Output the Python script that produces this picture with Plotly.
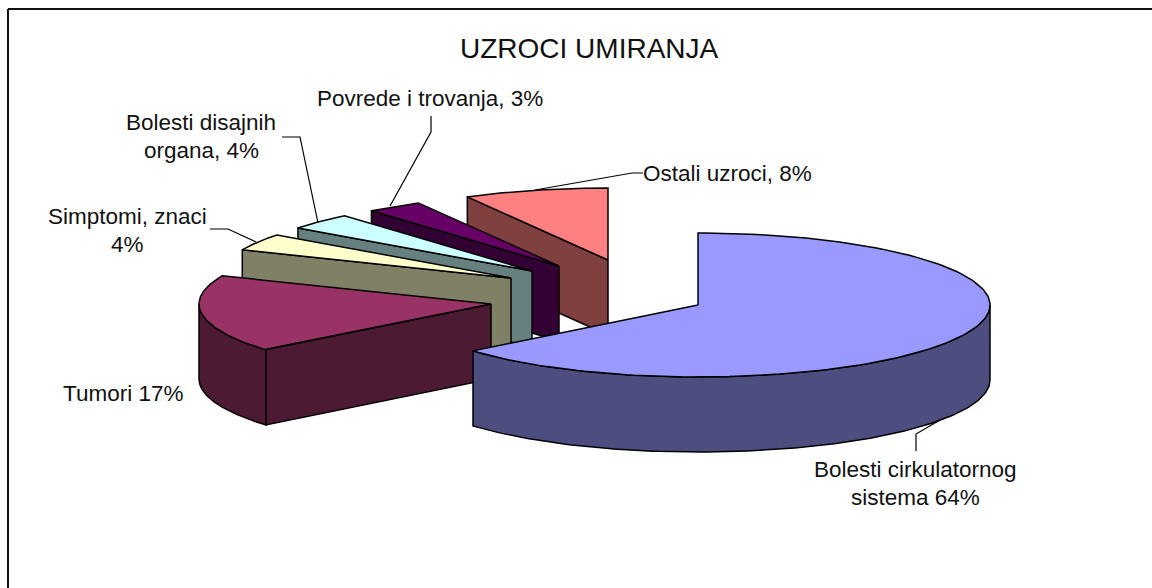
import numpy as np
import plotly.graph_objects as go

# ---- data ----
categories = ["Bolesti cirkulatornog sistema", "Tumori", "Simptomi, znaci",
              "Bolesti disajnih organa", "Povrede i trovanja", "Ostali uzroci"]
shares = [64, 17.4, 3.8, 3.7, 3.1, 8]
top_colors = ["#9999FF", "#993366", "#FFFFCC", "#CCFFFF", "#660066", "#FF8080"]
wall_colors = ["#4D4D80", "#4D1A33", "#808066", "#668080", "#330033", "#804040"]
title_text = "UZROCI UMIRANJA"
label_lines = [["Bolesti cirkulatornog", "sistema 64%"], ["Tumori 17%"],
               ["Simptomi, znaci", "4%"], ["Bolesti disajnih", "organa, 4%"],
               ["Povrede i trovanja, 3%"], ["Ostali uzroci, 8%"]]

# ---- pie geometry (pixel-mapped axes) ----
RX, RY, DEPTH = 292, 72, 75
slice_centres = [(698, 305), (491, 304), (511, 278), (532, 271), (559, 266), (608, 260)]
label_anchor = [(915, 469), (123, 393), (127, 216), (201, 122), (430, 98), (727, 173)]
LINE_GAP = 28
leaders = [[(916, 451), (916, 434), (940, 420)], None,
           [(210, 229), (228, 229), (256, 242)],
           [(282, 137), (300, 137), (318, 223)],
           [(431, 116), (431, 132), (390, 206)],
           [(643, 173), (632, 173), (535, 190)]]

edges = np.cumsum([0] + shares) / sum(shares) * 2 * np.pi
fig = go.Figure()


def poly(xs, ys, fill):
    fig.add_trace(go.Scatter(x=xs, y=ys, mode="lines", fill="toself", fillcolor=fill,
                             line=dict(color="black", width=1.5), hoverinfo="skip",
                             showlegend=False))


def rim(cx, cy, a, b, n=160):
    t = np.linspace(a, b, n)
    return cx + RX * np.sin(t), cy - RY * np.cos(t)


for i in reversed(range(len(shares))):
    cx, cy = slice_centres[i]
    a, b = edges[i], edges[i + 1]
    # radial face at the start angle, visible for slices in the back-left part
    if a > np.pi:
        sx, sy = rim(cx, cy, a, a, 1)
        poly([cx, sx[0], sx[0], cx, cx], [cy, sy[0], sy[0] + DEPTH, cy + DEPTH, cy], wall_colors[i])
    # outer wall, visible where the rim faces the viewer
    lo, hi = max(a, np.pi / 2), min(b, 3 * np.pi / 2)
    if hi > lo:
        wx, wy = rim(cx, cy, lo, hi)
        poly(np.r_[wx, wx[::-1], wx[0]], np.r_[wy, wy[::-1] + DEPTH, wy[0]], wall_colors[i])
    # top face
    tx, ty = rim(cx, cy, a, b)
    poly(np.r_[cx, tx, cx], np.r_[cy, ty, cy], top_colors[i])

for pts in leaders:
    if pts:
        fig.add_trace(go.Scatter(x=[p[0] for p in pts], y=[p[1] for p in pts], mode="lines",
                                 line=dict(color="black", width=1.2), hoverinfo="skip",
                                 showlegend=False))

FONT = "Liberation Sans"
annotations = [dict(x=589.5, y=48, text=title_text, showarrow=False, xref="x", yref="y",
                    font=dict(family=FONT, size=28, color="#111111"))]
for lines, (ax, ay) in zip(label_lines, label_anchor):
    for j, line in enumerate(lines):
        annotations.append(dict(x=ax, y=ay + j * LINE_GAP, text=line, showarrow=False,
                                xref="x", yref="y",
                                font=dict(family=FONT, size=22.5, color="#111111")))

fig.update_layout(
    width=1152, height=588, margin=dict(l=0, r=0, t=0, b=0),
    paper_bgcolor="white", plot_bgcolor="white", showlegend=False,
    xaxis=dict(range=[0, 1152], visible=False, fixedrange=True),
    yaxis=dict(range=[588, 0], visible=False, fixedrange=True),
    annotations=annotations,
    shapes=[
        dict(type="line", xref="x", yref="y", x0=8, y0=9, x1=1152, y1=9,
             line=dict(color="#111111", width=2)),
        dict(type="line", xref="x", yref="y", x0=8, y0=9, x1=8, y1=588,
             line=dict(color="#111111", width=2)),
    ],
)
fig.write_html("out.html", config=dict(displayModeBar=False),
               post_script="document.body.style.margin='0';document.body.style.overflow='hidden';")
